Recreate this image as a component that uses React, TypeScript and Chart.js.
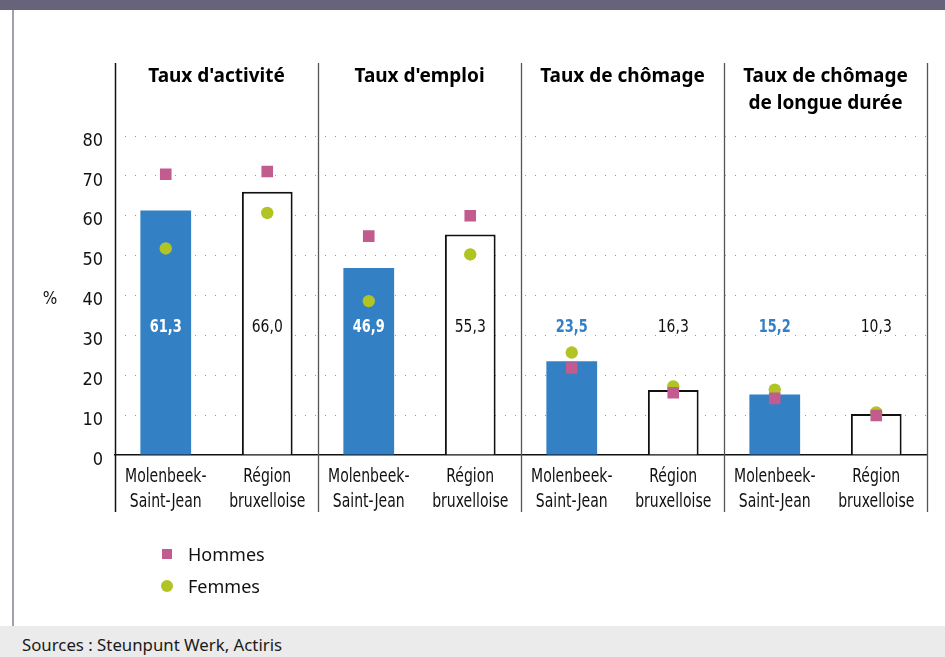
import React, { useEffect, useRef } from "react";
import { Chart, registerables } from "chart.js";

Chart.register(...registerables);

const categories: string[][] = [
  ["Molenbeek-", "Saint-Jean"], ["Région", "bruxelloise"],
  ["Molenbeek-", "Saint-Jean"], ["Région", "bruxelloise"],
  ["Molenbeek-", "Saint-Jean"], ["Région", "bruxelloise"],
  ["Molenbeek-", "Saint-Jean"], ["Région", "bruxelloise"],
];
const groupTitles: string[][] = [
  ["Taux d'activité"],
  ["Taux d'emploi"],
  ["Taux de chômage"],
  ["Taux de chômage", "de longue durée"],
];
const totalValues = [61.3, 66.0, 46.9, 55.3, 23.5, 16.3, 15.2, 10.3];
const valueLabels = ["61,3", "66,0", "46,9", "55,3", "23,5", "16,3", "15,2", "10,3"];
const hommesValues = [70.4, 71.1, 54.9, 60.0, 21.8, 15.6, 14.2, 9.9];
const femmesValues = [51.8, 60.7, 38.6, 50.3, 25.7, 17.2, 16.4, 10.7];
const yTicks = [0, 10, 20, 30, 40, 50, 60, 70, 80];

const BLUE = "#3380c4";
const PINK = "#c25b8e";
const GREEN = "#b1c424";
const COND = "'DejaVu Sans Condensed', 'DejaVu Sans', sans-serif";

function condText(ctx: any, text: string, x: number, y: number, sx: number) {
  ctx.save();
  ctx.translate(x, y);
  ctx.scale(sx, 1);
  ctx.fillText(text, 0, 0);
  ctx.restore();
}

const decorPlugin = {
  id: "decor",
  afterDatasetsDraw(chart: any) {
    const { ctx, chartArea, scales } = chart;
    const x = scales.x;
    const y = scales.y;
    const n = categories.length;
    const catW = chartArea.width / n;
    ctx.save();
    // separators
    for (let k = 0; k <= n; k += 2) {
      const px = Math.round(chartArea.left + catW * k) + 0.5;
      ctx.strokeStyle = k === 0 ? "#111" : "#555";
      ctx.lineWidth = k === 0 ? 1.5 : 1.3;
      ctx.beginPath();
      ctx.moveTo(px, 63);
      ctx.lineTo(px, 512);
      ctx.stroke();
    }
    // group titles
    ctx.fillStyle = "#000";
    ctx.font = "bold 19px 'Noto Sans', sans-serif";
    ctx.textAlign = "center";
    ctx.textBaseline = "alphabetic";
    groupTitles.forEach((lines, g) => {
      const cx = chartArea.left + catW * (2 * g + 1);
      lines.forEach((line, li) => {
        ctx.fillText(line, cx, 82 + li * 27);
      });
    });
    // category labels
    ctx.textBaseline = "middle";
    ctx.fillStyle = "#111";
    ctx.font = `19px ${COND}`;
    categories.forEach((lines, i) => {
      const cx = x.getPixelForValue(i);
      lines.forEach((line, li) => {
        condText(ctx, line, cx, 477 + li * 25, 0.82);
      });
    });
    // value labels
    const ly = y.getPixelForValue(32.5) + 2;
    totalValues.forEach((v, i) => {
      const cx = x.getPixelForValue(i);
      const mol = i % 2 === 0;
      if (mol) {
        ctx.font = `bold 18px ${COND}`;
        ctx.fillStyle = v > 35 ? "#ffffff" : BLUE;
      } else {
        ctx.font = `18px ${COND}`;
        ctx.fillStyle = "#111";
      }
      condText(ctx, valueLabels[i], cx, ly, mol ? 0.8 : 0.86);
    });
    // % label
    ctx.font = `17px ${COND}`;
    ctx.fillStyle = "#111";
    ctx.fillText("%", 50, y.getPixelForValue(40) + 4);
    ctx.restore();
  },
};

function ChartBox() {
  const ref = useRef<HTMLCanvasElement | null>(null);
  useEffect(() => {
    if (!ref.current) return;
    const chart = new Chart(ref.current, {
      type: "bar",
      data: {
        labels: categories.map((c) => c.join(" ")),
        datasets: [
          {
            type: "line",
            label: "Hommes",
            data: hommesValues,
            showLine: false,
            pointStyle: "rect",
            pointRadius: 8.2,
            pointBackgroundColor: PINK,
            pointBorderWidth: 0,
            borderColor: PINK,
            order: 0,
          } as any,
          {
            type: "line",
            label: "Femmes",
            data: femmesValues,
            showLine: false,
            pointStyle: "circle",
            pointRadius: 6.2,
            pointBackgroundColor: GREEN,
            pointBorderWidth: 0,
            borderColor: GREEN,
            order: 1,
          } as any,
          {
            type: "bar",
            label: "Total",
            data: totalValues,
            backgroundColor: totalValues.map((_, i) => (i % 2 === 0 ? BLUE : "#ffffff")),
            borderColor: totalValues.map((_, i) => (i % 2 === 0 ? BLUE : "#111111")),
            borderWidth: totalValues.map((_, i) => (i % 2 === 0 ? 0 : 2)),
            barPercentage: 0.5,
            categoryPercentage: 1,
            order: 2,
          } as any,
        ],
      },
      options: {
        animation: false,
        responsive: false,
        maintainAspectRatio: false,
        layout: { padding: { top: 136, right: 18, bottom: 121, left: 0 } },
        plugins: { legend: { display: false }, tooltip: { enabled: false } },
        scales: {
          x: {
            type: "category",
            offset: true,
            grid: { display: false, drawTicks: false },
            border: { display: true, color: "#111", width: 1.5 },
            ticks: { display: false },
            afterFit: (s: any) => { s.height = 50; },
          },
          y: {
            min: 0,
            max: 80,
            afterBuildTicks: (s: any) => { s.ticks = yTicks.map((v) => ({ value: v })); },
            grid: {
              drawTicks: false,
              color: (c: any) => (c.tick && c.tick.value === 0 ? "rgba(0,0,0,0)" : "#9a9a9a"),
              lineWidth: 1,
            },
            border: { display: false, dash: [1, 9] },
            ticks: {
              padding: 12,
              labelOffset: 5,
              color: "#111",
              font: { family: COND, size: 18 },
            },
            afterFit: (s: any) => { s.width = 115; },
          },
        },
      },
      plugins: [decorPlugin],
    });
    return () => chart.destroy();
  }, []);
  return <canvas ref={ref} width={945} height={626} style={{ position: "absolute", left: 0, top: 0, width: 945, height: 626 }} />;
}

export default function App() {
  return (
    <div style={{ position: "fixed", left: 0, top: 0, width: 945, height: 657, background: "#fff", overflow: "hidden", fontFamily: "'Noto Sans', sans-serif" }}>
      <ChartBox />
      <div style={{ position: "absolute", left: 0, top: 0, width: 945, height: 10, background: "#66637a" }} />
      <div style={{ position: "absolute", left: 12, top: 10, width: 2, height: 616, background: "#a19fb0" }} />
      <div style={{ position: "absolute", left: 0, top: 626, width: 945, height: 31, background: "#ebebeb" }}>
        <div style={{ position: "absolute", left: 22, top: 7, fontSize: 16.8, lineHeight: "24px", color: "#1a1a1a", whiteSpace: "nowrap" }}>
          Sources : Steunpunt Werk, Actiris
        </div>
      </div>
      <div style={{ position: "absolute", left: 162, top: 538, fontSize: 18, color: "#111", lineHeight: "32px" }}>
        <div style={{ display: "flex", alignItems: "center" }}>
          <span style={{ display: "inline-block", width: 10, height: 10, background: PINK, marginRight: 16 }} />
          Hommes
        </div>
        <div style={{ display: "flex", alignItems: "center" }}>
          <span style={{ display: "inline-block", width: 12, height: 12, borderRadius: 6, background: GREEN, marginRight: 15, marginLeft: -1 }} />
          Femmes
        </div>
      </div>
    </div>
  );
}
